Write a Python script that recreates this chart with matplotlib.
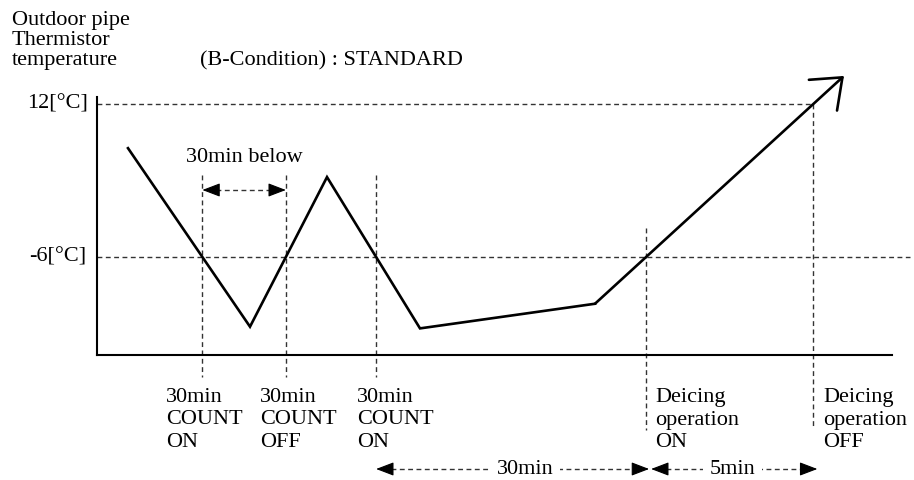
import matplotlib.pyplot as plt
import matplotlib.transforms as mtransforms

plt.rcParams['font.family'] = ['Liberation Serif', 'DejaVu Serif']
plt.rcParams['font.size'] = 16

# schematic time (arbitrary units) and outdoor pipe temperature [°C]
time = [31, 153, 230, 323, 498, 747]
temp = [6.8, -14.2, 3.4, -14.4, -11.5, 15.3]

upper_level = 12
lower_level = -6
level_labels = ['12[°C]', '-6[°C]']

count_labels = ['30min\nCOUNT\nON', '30min\nCOUNT\nOFF', '30min\nCOUNT\nON']
deice_labels = ['Deicing\noperation\nON', 'Deicing\noperation\nOFF']
span_labels = ['30min below', '30min', '5min']


def crossings(xs, ys, level):
    # x positions where the polyline passes the given level
    out = []
    for i in range(len(xs) - 1):
        y0, y1 = ys[i], ys[i + 1]
        if (y0 - level) * (y1 - level) < 0:
            t = (level - y0) / (y1 - y0)
            out.append(xs[i] + t * (xs[i + 1] - xs[i]))
    return out


low_x = crossings(time, temp, lower_level)    # count on / off / on / deicing on
high_x = crossings(time, temp, upper_level)   # deicing off

fig = plt.figure(figsize=(9.14, 4.8), dpi=100)
ax = fig.add_axes([97 / 914, 1 - 355 / 480, 795 / 914, 258 / 480])
ax.set_xlim(0, 795)
ax.set_ylim(-17.53, 12.82)
for s in ['top', 'right']:
    ax.spines[s].set_visible(False)
for s in ['left', 'bottom']:
    ax.spines[s].set_linewidth(1.5)
ax.set_xticks([])
ax.set_yticks([])

dash = dict(color='#333333', lw=1.0, ls=(0, (3.5, 2.5)), clip_on=False)
bx = mtransforms.blended_transform_factory(ax.transData, fig.transFigure)

# reference levels
ax.plot([0, high_x[0]], [upper_level, upper_level], **dash)
ax.plot([0, 813], [lower_level, lower_level], **dash)
ax.text(-9, upper_level, level_labels[0], ha='right', va='center', clip_on=False)
ax.text(-11, lower_level, level_labels[1], ha='right', va='center', clip_on=False)

# event markers
for x in low_x[:3]:
    ax.plot([x, x], [3.65, -20.1], **dash)
ax.plot([low_x[3], low_x[3]], [-2.6, -26.4], **dash)
ax.plot([high_x[0], high_x[0]], [upper_level, -26.1], **dash)

# temperature curve
ax.plot(time[:-1], temp[:-1], color='black', lw=1.9, solid_joinstyle='miter', clip_on=False)
ax.annotate('', xy=(time[-1], temp[-1]), xytext=(time[-2], temp[-2]),
            arrowprops=dict(arrowstyle='->,head_length=1.9,head_width=1.5', color='black',
                            lw=1.9, shrinkA=0, shrinkB=0, mutation_scale=10),
            annotation_clip=False)


def dashed_arrow(x0, x1, y, trans, head=15):
    ax.plot([x0 + head, x1 - head], [y, y], transform=trans, **dash)
    for tip, back in ((x0, x0 + head), (x1, x1 - head)):
        ax.annotate('', xy=(tip, y), xytext=(back, y), xycoords=trans, textcoords=trans,
                    arrowprops=dict(arrowstyle='-|>,head_length=1.1,head_width=0.42',
                                    color='black', lw=0.8, shrinkA=0, shrinkB=0,
                                    mutation_scale=10),
                    annotation_clip=False)


# 30min below
dashed_arrow(low_x[0], low_x[1], 1.88, ax.transData, head=14)
ax.text((low_x[0] + low_x[1]) / 2, 5.76, span_labels[0], ha='center', va='center')

# labels under the axis
label_top = 1 - 388 / 480
offsets = [-36, -26, -19]
for x, dx, lab in zip(low_x[:3], offsets, count_labels):
    ax.text(x + dx, label_top, lab, transform=bx, ha='left', va='top', linespacing=1.25)
ax.text(low_x[3] + 9, label_top, deice_labels[0], transform=bx, ha='left', va='top',
        linespacing=1.25)
ax.text(high_x[0] + 10, label_top, deice_labels[1], transform=bx, ha='left', va='top',
        linespacing=1.25)

# duration arrows
yb = 1 - 469 / 480
dashed_arrow(low_x[2], low_x[3] + 3, yb, bx)
ax.text((low_x[2] + low_x[3]) / 2 + 14, yb, span_labels[1], transform=bx, ha='center',
        va='center', bbox=dict(facecolor='white', edgecolor='none', pad=5), zorder=5)
dashed_arrow(low_x[3] + 5, high_x[0] + 4, yb, bx)
ax.text((low_x[3] + high_x[0]) / 2 + 3, yb, span_labels[2], transform=bx, ha='center',
        va='center', bbox=dict(facecolor='white', edgecolor='none', pad=5), zorder=5)

# header
fig.text(12 / 914, 1 - 25 / 480, 'Outdoor pipe', ha='left', va='baseline')
fig.text(12 / 914, 1 - 45 / 480, 'Thermistor', ha='left', va='baseline')
fig.text(12 / 914, 1 - 65 / 480, 'temperature', ha='left', va='baseline')
fig.text(200 / 914, 1 - 65 / 480, '(B-Condition) : STANDARD', ha='left', va='baseline')

fig.savefig('out.png', dpi=100)
